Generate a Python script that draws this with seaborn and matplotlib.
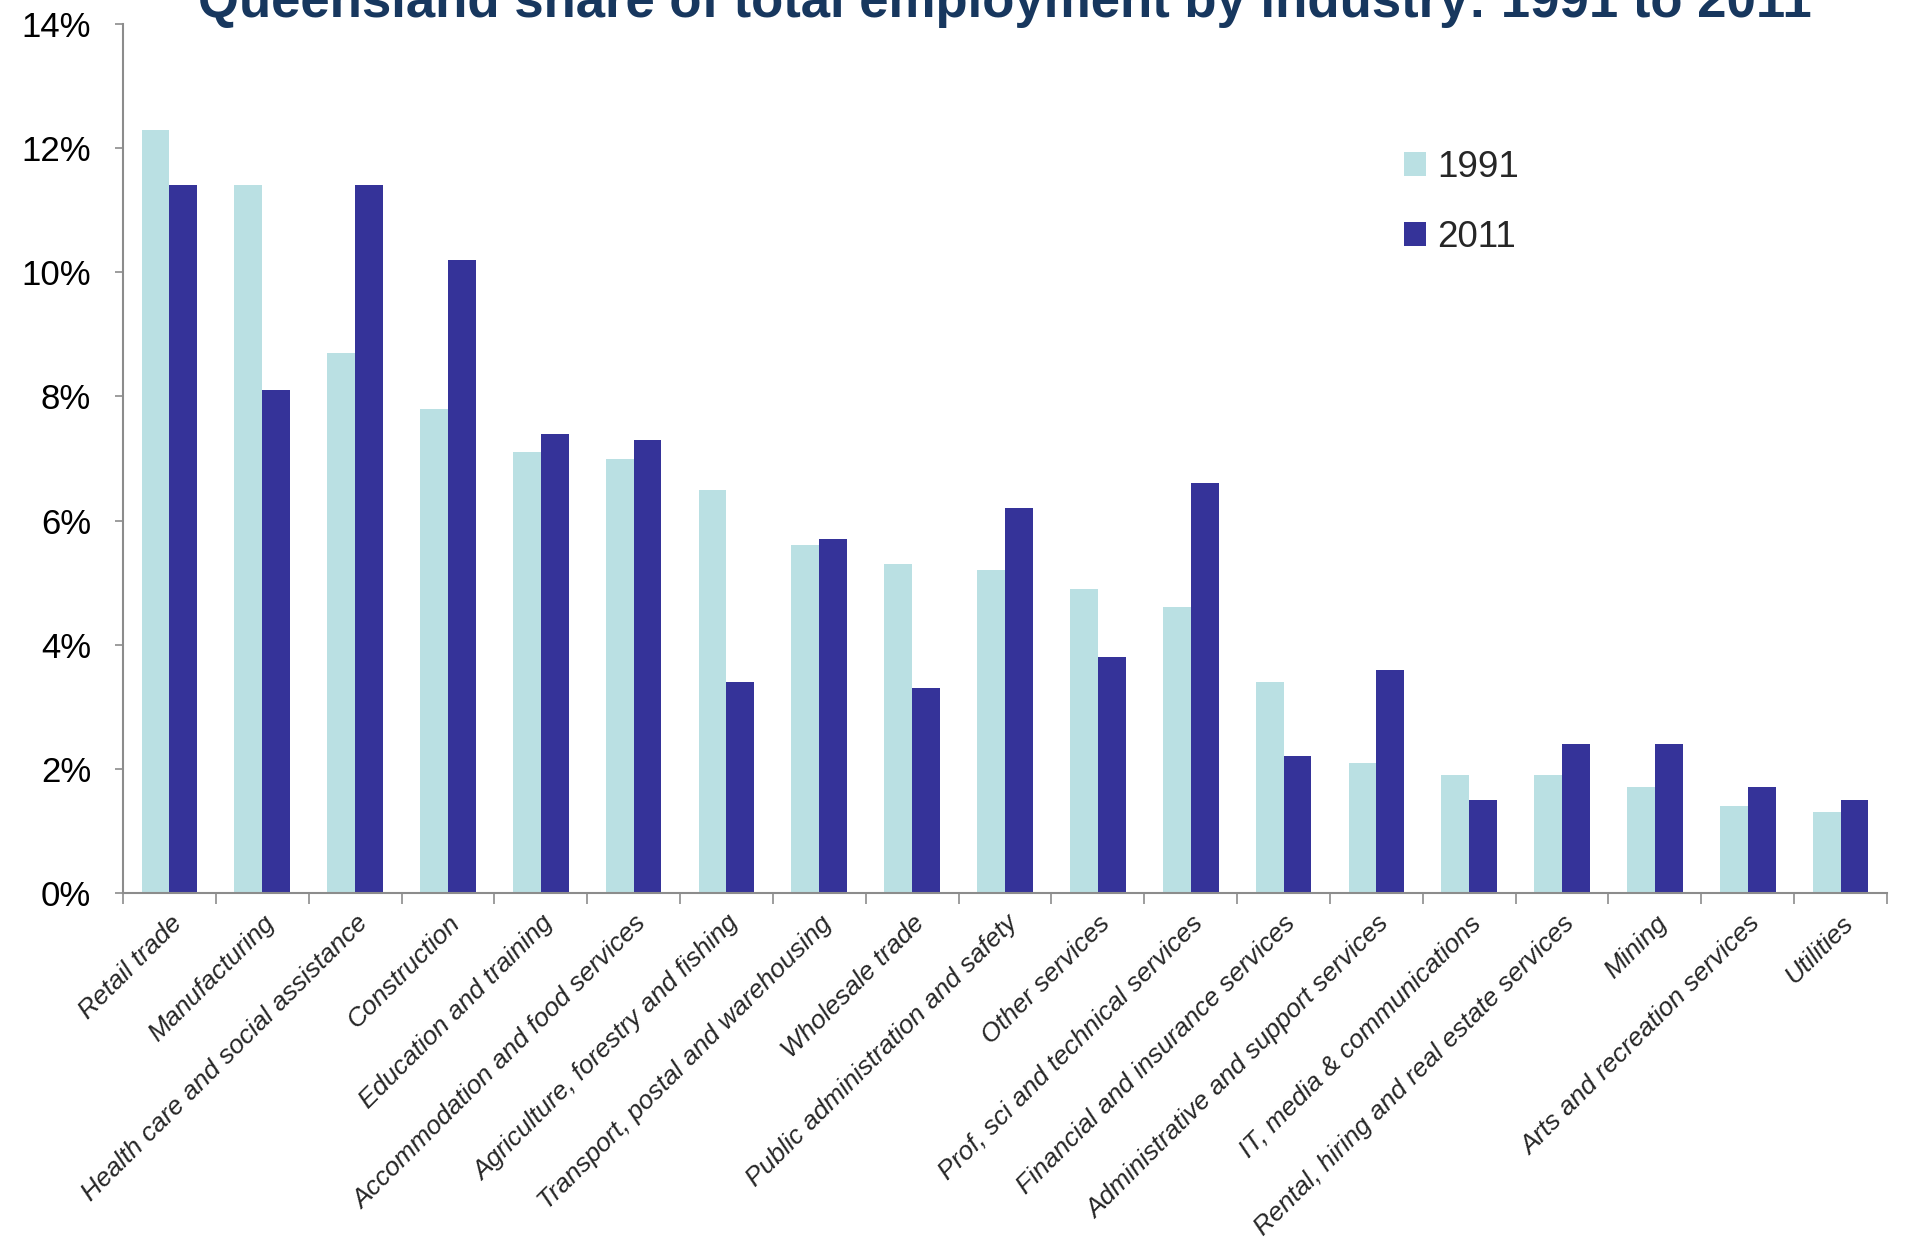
import numpy as np
import pandas as pd
import matplotlib
matplotlib.use("Agg")
import matplotlib.pyplot as plt
import seaborn as sns
from matplotlib.ticker import FixedLocator, FuncFormatter

industries = [
    "Retail trade", "Manufacturing", "Health care and social assistance",
    "Construction", "Education and training", "Accommodation and food services",
    "Agriculture, forestry and fishing", "Transport, postal and warehousing",
    "Wholesale trade", "Public administration and safety", "Other services",
    "Prof, sci and technical services", "Financial and insurance services",
    "Administrative and support services", "IT, media & communications",
    "Rental, hiring and real estate services", "Mining",
    "Arts and recreation services", "Utilities",
]
share_1991 = [12.3, 11.4, 8.7, 7.8, 7.1, 7.0, 6.5, 5.6, 5.3, 5.2, 4.9, 4.6,
              3.4, 2.1, 1.9, 1.9, 1.7, 1.4, 1.3]
share_2011 = [11.4, 8.1, 11.4, 10.2, 7.4, 7.3, 3.4, 5.7, 3.3, 6.2, 3.8, 6.6,
              2.2, 3.6, 1.5, 2.4, 2.4, 1.7, 1.5]
years = ["1991", "2011"]
y_ticks = [0, 2, 4, 6, 8, 10, 12, 14]

df = pd.DataFrame({
    "industry": industries * 2,
    "year": [years[0]] * len(industries) + [years[1]] * len(industries),
    "share": share_1991 + share_2011,
})

sns.set_style("white")
plt.rcParams["font.family"] = ["Liberation Sans", "DejaVu Sans"]

fig = plt.figure(figsize=(19.05, 12.41), dpi=100)
W, H = 1905, 1241
ax = fig.add_axes([123 / W, 1 - 893 / H, (1887 - 123) / W, (893 - 24) / H])

palette = {"1991": "#BAE0E3", "2011": "#353399"}
sns.barplot(data=df, x="industry", y="share", hue="year", order=industries,
            hue_order=years, palette=palette, width=0.6, saturation=1,
            edgecolor="none", ax=ax)

ax.set_xlim(-0.5, len(industries) - 0.5)
ax.set_ylim(0, 14)
ax.set_xlabel("")
ax.set_ylabel("")

# y axis
ax.yaxis.set_major_locator(FixedLocator(y_ticks))
ax.yaxis.set_major_formatter(FuncFormatter(lambda v, p: f"{v:.0f}%"))
ax.tick_params(axis="y", which="major", left=True, length=6, width=1.2,
               color="#8C8C8C", direction="out", pad=17, labelsize=25,
               labelcolor="black")

# x axis: ticks between categories, rotated labels
ax.set_xticks(np.arange(len(industries)))
ax.set_xticklabels(industries, rotation=45, ha="right", rotation_mode="anchor",
                   fontsize=19, style="italic")
ax.tick_params(axis="x", which="major", length=0, pad=13)
ax.set_xticks(np.arange(-0.5, len(industries)), minor=True)
ax.tick_params(axis="x", which="minor", bottom=True, length=8, width=1.2,
               color="#8C8C8C", direction="out")

for side in ["top", "right"]:
    ax.spines[side].set_visible(False)
for side in ["left", "bottom"]:
    ax.spines[side].set_color("#8C8C8C")
    ax.spines[side].set_linewidth(1.5)

leg = ax.legend(loc="upper left",
                bbox_to_anchor=((1371 - 123) / (1887 - 123), 1 - (117 - 24) / (893 - 24)),
                frameon=False, fontsize=26.5, handlelength=0.6, handleheight=0.6,
                handletextpad=0.3, labelspacing=0.95, title=None)

fig.text(1005 / W, 1 - 17 / H, "Queensland share of total employment by industry: 1991 to 2011",
         ha="center", va="baseline", fontsize=38, fontweight="bold", color="#17375E")

fig.savefig("out.png", dpi=100)
